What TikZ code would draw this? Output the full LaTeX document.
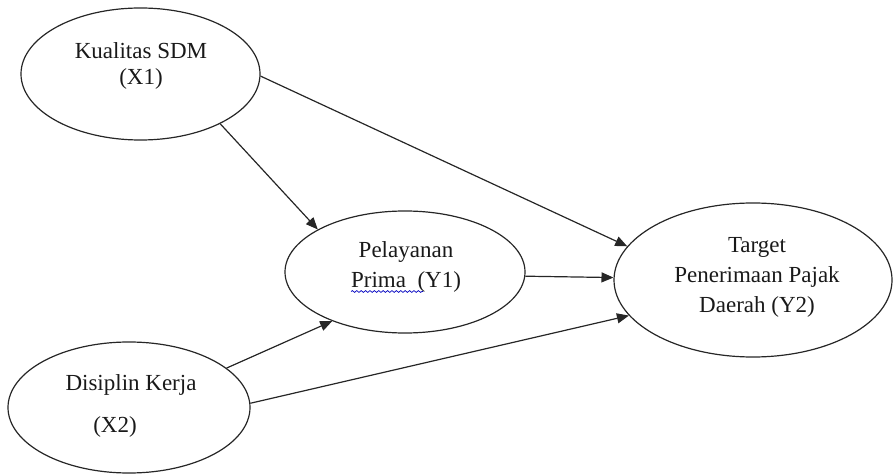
\documentclass[tikz,border=0pt]{standalone}
\usepackage{fontspec}
\setmainfont{Liberation Serif}
\usetikzlibrary{shapes.geometric,arrows.meta,decorations.pathmorphing}
\begin{document}
\begin{tikzpicture}[x=0.5pt,y=-0.5pt,
  var/.style={draw=black!85, line width=0.6pt, ellipse, inner sep=0pt},
  txt/.style={font=\fontsize{11.5}{14}\selectfont, anchor=base, inner sep=0pt, text=black!90},
  arr/.style={draw=black!85, line width=0.6pt, -{Triangle[length=6pt,width=5pt]}},
  wavy/.style={draw=blue!75!black, line width=0.35pt, decorate, decoration={snake, amplitude=0.45pt, segment length=2.2pt}}
]
\useasboundingbox (0,0) rectangle (893,475);

\node[var, minimum width=239pt*0.5, minimum height=132pt*0.5] (X1) at (140.5,74) {};
\node[var, minimum width=240pt*0.5, minimum height=122pt*0.5] (Y1) at (405,272) {};
\node[var, minimum width=278pt*0.5, minimum height=154pt*0.5] (Y2) at (753,280) {};
\node[var, minimum width=242pt*0.5, minimum height=131pt*0.5] (X2) at (129,407.5) {};

\node[txt] (X1a) at (141,59) {Kualitas SDM};
\node[txt] (X1b) at (141,85) {(X1)};

\node[txt] (Y1a) at (406,258) {Pelayanan};
\node[txt] (Y1b) at (406,288) {Prima\ \ (Y1)};
\coordinate (w1) at (351,291.5);
\coordinate (w2) at (423,291.5);
\draw[wavy] (w1) -- (w2);

\node[txt] (Y2a) at (757,253) {Target};
\node[txt] (Y2b) at (757,283) {Penerimaan Pajak};
\node[txt] (Y2c) at (757,313) {Daerah (Y2)};

\node[txt] (X2a) at (131,390) {Disiplin Kerja};
\node[txt] (X2b) at (115,432) {(X2)};

\draw[arr] (X1.-1) -- (Y2.165);
\draw[arr] (X1.-32) -- (Y1.154);
\draw[arr] (Y1.-2) -- (Y2.179);
\draw[arr] (X2.22) -- (Y1.214);
\draw[arr] (X2.2.6) -- (Y2.196);
\end{tikzpicture}
\end{document}
